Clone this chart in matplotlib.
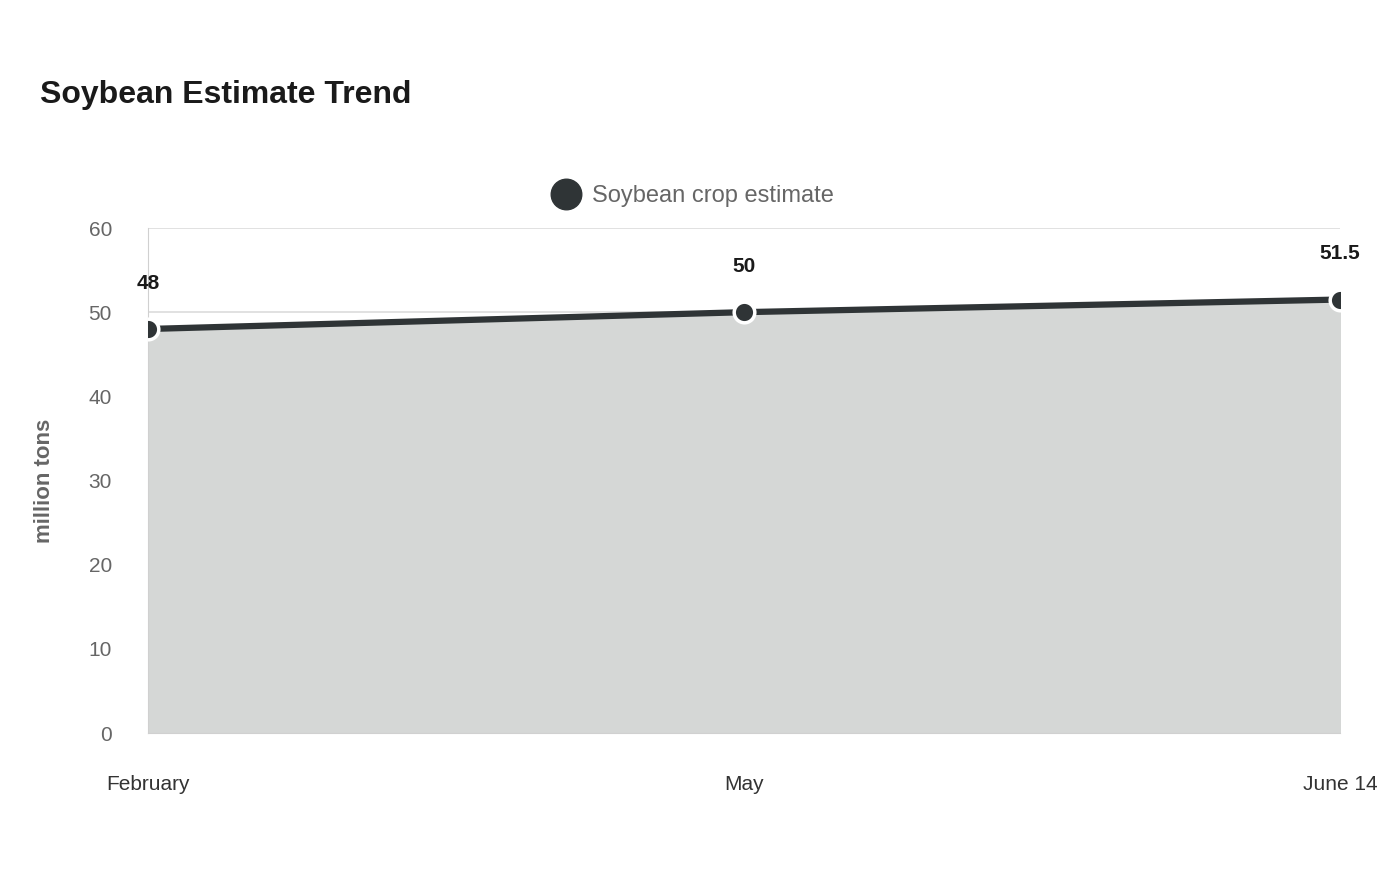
import matplotlib
matplotlib.use("Agg")
import matplotlib.pyplot as plt

plt.rcParams['font.family'] = ['Liberation Sans', 'DejaVu Sans']

# data
months = ['February', 'May', 'June 14']
estimate = [48, 50, 51.5]
x = list(range(len(months)))

fig = plt.figure(figsize=(14, 8.8), dpi=100)
ax = fig.add_axes([148/1400, 147/880, 1192/1400, 505/880])

ax.fill_between(x, estimate, 0, color='#d5d7d6', zorder=1)
ax.plot(x, estimate, color='#2f3436', lw=4.5, zorder=3)
ax.scatter(x, estimate, s=220, color='#2f3436', edgecolor='white', linewidth=2.5, zorder=4)
for xi, v in zip(x, estimate):
    ax.annotate(f'{v:g}', (xi, v), xytext=(0, 26), textcoords='offset points',
                ha='center', va='bottom', fontsize=15, fontweight='bold', color='#1a1a1a')

ax.set_xlim(0, 2)
ax.set_ylim(0, 60)
ax.set_yticks(range(0, 61, 10))
ax.set_xticks(x)
ax.set_xticklabels(months)
ax.grid(axis='y', color='#dcdcdc', lw=1.2, zorder=0)
ax.set_axisbelow(True)
for s in ['top', 'right']:
    ax.spines[s].set_visible(False)
ax.spines['left'].set_color('#d0d0d0')
ax.spines['bottom'].set_color('#d0d0d0')
ax.tick_params(axis='y', length=0, labelsize=15, labelcolor='#666666', pad=26)
ax.tick_params(axis='x', length=0, labelsize=15, labelcolor='#333333', pad=30)
ax.set_ylabel('million tons', fontsize=16, fontweight='bold', color='#666666', labelpad=24)

fig.text(40/1400, 1 - 95/880, 'Soybean Estimate Trend', fontsize=23, fontweight='bold',
         color='#1a1a1a', va='center')
fig.legend(handles=[plt.Line2D([], [], marker='o', ls='', markersize=22, color='#2f3436')],
           labels=['Soybean crop estimate'], loc='center', bbox_to_anchor=(688/1400, 1 - 196/880),
           frameon=False, fontsize=17, labelcolor='#666666', handletextpad=0.1)

fig.savefig('out.png', dpi=100)
